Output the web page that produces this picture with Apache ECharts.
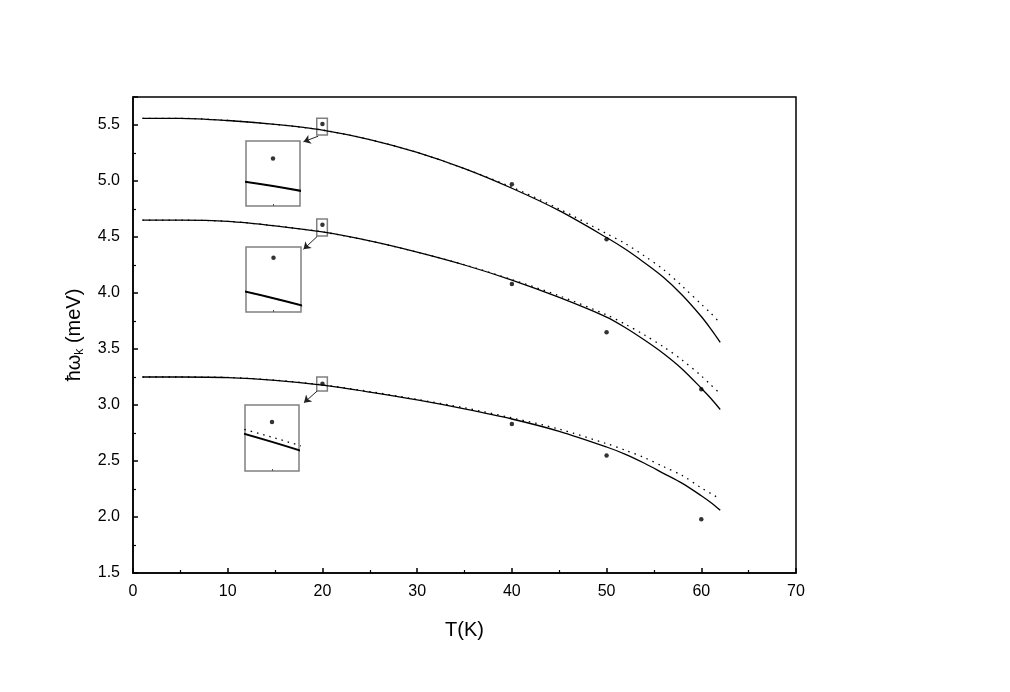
<!DOCTYPE html>
<html>
<head>
<meta charset="utf-8">
<script src="https://cdn.jsdelivr.net/npm/echarts@6/dist/echarts.min.js"></script>
<style>
html,body{margin:0;padding:0;background:#fff;}
#main{width:1010px;height:692px;}
</style>
</head>
<body>
<div id="main"></div>
<script>
// 温度 T(K)
var temps = [1, 5, 10, 15, 20, 25, 30, 35, 40, 45, 50, 52, 54, 56, 58, 60, 61, 62];
// 理论曲线 (实线 / 虚线)
var solidTop = [5.56, 5.56, 5.54, 5.505, 5.455, 5.37, 5.255, 5.11, 4.935, 4.735, 4.495, 4.39, 4.27, 4.14, 3.98, 3.79, 3.68, 3.56];
var dotTop   = [5.56, 5.56, 5.54, 5.505, 5.455, 5.37, 5.255, 5.11, 4.945, 4.75, 4.53, 4.44, 4.33, 4.21, 4.06, 3.90, 3.82, 3.73];
var solidMid = [4.65, 4.65, 4.64, 4.60, 4.545, 4.465, 4.365, 4.25, 4.115, 3.96, 3.785, 3.69, 3.58, 3.46, 3.32, 3.15, 3.06, 2.96];
var dotMid   = [4.65, 4.65, 4.64, 4.60, 4.545, 4.465, 4.365, 4.252, 4.12, 3.975, 3.805, 3.72, 3.625, 3.52, 3.40, 3.26, 3.18, 3.10];
var solidBot = [3.25, 3.25, 3.245, 3.22, 3.177, 3.115, 3.045, 2.965, 2.875, 2.765, 2.625, 2.56, 2.48, 2.39, 2.30, 2.19, 2.13, 2.06];
var dotBot   = [3.25, 3.25, 3.246, 3.222, 3.18, 3.12, 3.05, 2.975, 2.885, 2.785, 2.655, 2.595, 2.53, 2.45, 2.37, 2.26, 2.21, 2.16];
// 实验点
var expT   = [20, 40, 50, 60];
var expTop = [5.51, 4.97, 4.48, null];
var expMid = [4.61, 4.08, 3.65, 3.14];
var expBot = [3.19, 2.83, 2.55, 1.98];
// 坐标轴刻度
var xTicks = [0, 70, 10];
var yTicks = [1.5, 5.75, 0.5];

function pairs(xs, ys){
    var out = [];
    for(var i = 0; i < xs.length; i++){
        if(ys[i] !== null) out.push([xs[i], ys[i]]);
    }
    return out;
}

var solids = [solidTop, solidMid, solidBot];
var dots = [dotTop, dotMid, dotBot];
var exps = [expTop, expMid, expBot];

// 放大小图
var insets = [
    {left: 246, top: 141, width: 54, height: 65, x: [19.33, 20.67], y: [5.415, 5.545]},
    {left: 246, top: 247, width: 55, height: 65, x: [19.2, 20.8], y: [4.523, 4.627]},
    {left: 245, top: 405, width: 54, height: 66, x: [19.5, 20.5], y: [3.158, 3.201]}
];

var grids = [{left: 133, top: 97, width: 663, height: 476, show: true, borderColor: '#000', borderWidth: 1.5, backgroundColor: 'transparent'}];
var xAxes = [{
    gridIndex: 0, type: 'value', min: xTicks[0], max: xTicks[1], interval: xTicks[2],
    name: 'T(K)', nameLocation: 'middle', nameGap: 47,
    nameTextStyle: {fontFamily: 'Liberation Sans', fontSize: 20, color: '#000'},
    axisLine: {lineStyle: {color: '#000', width: 1.5}},
    axisTick: {inside: true, length: 5, lineStyle: {color: '#000', width: 1.5}},
    minorTick: {show: true, splitNumber: 2, length: 3, lineStyle: {color: '#000', width: 1.2}},
    axisLabel: {fontFamily: 'Liberation Sans', fontSize: 16, color: '#000', margin: 11},
    splitLine: {show: false}
}];
var yAxes = [{
    gridIndex: 0, type: 'value', min: yTicks[0], max: yTicks[1], interval: yTicks[2],
    name: '{a|ħω}{b|k}{a| (meV)}', nameLocation: 'middle', nameGap: 47,
    nameTextStyle: {
        color: '#000',
        rich: {
            a: {fontFamily: 'Liberation Sans', fontSize: 20, color: '#000', lineHeight: 24},
            b: {fontFamily: 'Liberation Sans', fontSize: 12, color: '#000', lineHeight: 12, verticalAlign: 'bottom'}
        }
    },
    axisLine: {lineStyle: {color: '#000', width: 1.5}},
    axisTick: {inside: true, length: 5, lineStyle: {color: '#000', width: 1.5}},
    minorTick: {show: true, splitNumber: 2, length: 3, lineStyle: {color: '#000', width: 1.2}},
    axisLabel: {fontFamily: 'Liberation Sans', fontSize: 16, color: '#000', margin: 13, showMaxLabel: false,
        formatter: function(v){ return v.toFixed(1); }},
    splitLine: {show: false}
}];

for(var k = 0; k < insets.length; k++){
    var b = insets[k];
    grids.push({left: b.left, top: b.top, width: b.width, height: b.height, show: true,
        borderColor: '#808080', borderWidth: 1.5, backgroundColor: '#fff'});
    xAxes.push({gridIndex: k + 1, type: 'value', min: b.x[0], max: b.x[1],
        axisLine: {show: false}, axisLabel: {show: false}, splitLine: {show: false},
        axisTick: {show: true, inside: true, length: 2, customValues: [20], lineStyle: {color: '#555'}}});
    yAxes.push({gridIndex: k + 1, type: 'value', min: b.y[0], max: b.y[1],
        axisLine: {show: false}, axisLabel: {show: false}, splitLine: {show: false}, axisTick: {show: false}});
}

var series = [];
for(var g = 0; g < grids.length; g++){
    for(var c = 0; c < 3; c++){
        series.push({
            type: 'line', xAxisIndex: g, yAxisIndex: g, data: pairs(temps, dots[c]),
            symbol: 'none', smooth: 0.3, clip: true, silent: true,
            lineStyle: {color: '#000', width: 1.3, type: [1.5, 5]}
        });
        series.push({
            type: 'line', xAxisIndex: g, yAxisIndex: g, data: pairs(temps, solids[c]),
            symbol: 'none', smooth: 0.3, clip: true, silent: true,
            lineStyle: {color: '#000', width: g === 0 ? 1.3 : 2}
        });
        series.push({
            type: 'scatter', xAxisIndex: g, yAxisIndex: g, data: pairs(expT, exps[c]),
            symbol: 'circle', symbolSize: 4.5, clip: true, silent: true,
            itemStyle: {color: '#000'}
        });
    }
}

// 小方框和箭头
series.push({
    type: 'scatter', xAxisIndex: 0, yAxisIndex: 0, data: [], silent: true,
    markArea: {
        silent: true, label: {show: false},
        itemStyle: {color: 'rgba(0,0,0,0)', borderColor: '#808080', borderWidth: 1.5},
        data: [
            [{coord: [19.4, 5.56]}, {coord: [20.52, 5.41]}],
            [{coord: [19.4, 4.66]}, {coord: [20.52, 4.51]}],
            [{coord: [19.4, 3.25]}, {coord: [20.52, 3.125]}]
        ]
    },
    markLine: {
        silent: true, label: {show: false}, symbol: ['none', 'arrow'], symbolSize: 7,
        lineStyle: {color: '#222', width: 1, type: 'solid'},
        data: [
            [{coord: [19.55, 5.40]}, {coord: [18.0, 5.35]}],
            [{coord: [19.45, 4.505]}, {coord: [18.0, 4.39]}],
            [{coord: [19.45, 3.125]}, {coord: [18.05, 3.02]}]
        ]
    }
});

var myChart = echarts.init(document.getElementById('main'));
myChart.setOption({
    animation: false,
    backgroundColor: '#fff',
    grid: grids,
    xAxis: xAxes,
    yAxis: yAxes,
    series: series
});
</script>
</body>
</html>
